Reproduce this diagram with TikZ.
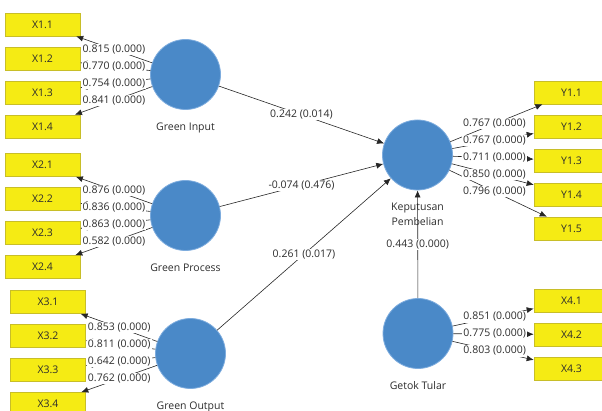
\documentclass[tikz,border=0pt]{standalone}
\usepackage{fontspec}
\setmainfont{Open Sans}
\usetikzlibrary{arrows.meta,positioning}

\definecolor{lvblue}{RGB}{74,137,200}
\definecolor{lvedge}{RGB}{125,172,222}
\definecolor{mvyellow}{RGB}{245,235,20}
\definecolor{mvedge}{RGB}{200,190,40}
\definecolor{txtgray}{RGB}{45,45,45}

\tikzset{
  latent/.style={circle,fill=lvblue,draw=lvedge,line width=0.8pt,minimum size=70pt,inner sep=0pt},
  manifest/.style={rectangle,fill=mvyellow,draw=mvedge,line width=0.6pt,minimum width=75pt,minimum height=23pt,inner sep=0pt,text=txtgray,font=\fontsize{10.5}{12}\selectfont},
  coef/.style={fill=white,inner sep=1pt,text=txtgray,font=\fontsize{10.5}{12}\selectfont},
  lvname/.style={inner sep=0pt,text=txtgray,align=center,font=\fontsize{10.5}{15}\selectfont},
  link/.style={draw=black!85,line width=0.6pt,-{Latex[length=7pt,width=6pt]}}
}

\begin{document}
\begin{tikzpicture}[x=1pt,y=-1pt]
	\useasboundingbox (0,0) rectangle (602,411);
	\clip (0,0) rectangle (602,411);

	% latent variables
	\node[latent] (gi) at (185.5,74.5) {};
	\node[latent] (gp) at (185.5,215.5) {};
	\node[latent] (go) at (190.5,353.5) {};
	\node[latent] (kp) at (417.5,155) {};
	\node[latent] (gt) at (418,333.5) {};

	\node[lvname, below=12.5pt of gi] (gi-name) {Green Input};
	\node[lvname, below=12.5pt of gp] (gp-name) {Green Process};
	\node[lvname, below=12.5pt of go] (go-name) {Green Output};
	\node[lvname, below=12.5pt of kp] (kp-name) {Keputusan\\Pembelian};
	\node[lvname, below=12.5pt of gt] (gt-name) {Getok Tular};

	% indicators
	\foreach \k in {1,2,3,4}
	  {
		\pgfmathsetmacro{\ya}{24.5+34*(\k-1)}%
		\pgfmathsetmacro{\yb}{165+34*(\k-1)}%
		\pgfmathsetmacro{\yc}{302+34*(\k-1)}%
		\node[manifest] (x1\k) at (42.5,\ya) {X1.\k};
		\node[manifest] (x2\k) at (42.5,\yb) {X2.\k};
		\node[manifest] (x3\k) at (48,\yc) {X3.\k};
		\draw[link] (gi) -- (x1\k);
		\draw[link] (gp) -- (x2\k);
		\draw[link] (go) -- (x3\k);
	  }
	\foreach \k in {1,...,5}
	  {
		\pgfmathsetmacro{\ya}{92.5+34*(\k-1)}%
		\node[manifest] (y1\k) at (571.5,\ya) {Y1.\k};
		\draw[link] (kp) -- (y1\k);
	  }
	\foreach \k in {1,2,3}
	  {
		\pgfmathsetmacro{\ya}{300.5+34*(\k-1)}%
		\node[manifest] (x4\k) at (571.5,\ya) {X4.\k};
		\draw[link] (gt) -- (x4\k);
	  }

	% structural paths
	\draw[link] (gi) -- (kp);
	\draw[link] (gp) -- (kp);
	\draw[link] (go) -- (kp);
	\draw[link] (gt) -- (kp);

	% outer loadings
	\foreach \k/\v in {1/0.815,2/0.770,3/0.754,4/0.841}
		\path (gi.center) -- (x1\k.center) node[midway,coef] {\v\ (0.000)};
	\foreach \k/\v in {1/0.876,2/0.836,3/0.863,4/0.582}
		\path (gp.center) -- (x2\k.center) node[midway,coef] {\v\ (0.000)};
	\foreach \k/\v in {1/0.853,2/0.811,3/0.642,4/0.762}
		\path (go.center) -- (x3\k.center) node[midway,coef] {\v\ (0.000)};
	\foreach \k/\v in {1/0.767,2/0.767,3/0.711,4/0.850,5/0.796}
		\path (kp.center) -- (y1\k.center) node[midway,coef] {\v\ (0.000)};
	\foreach \k/\v in {1/0.851,2/0.775,3/0.803}
		\path (gt.center) -- (x4\k.center) node[midway,coef] {\v\ (0.000)};

	% path coefficients
	\path (gi.center) -- (kp.center) node[midway,coef] {0.242 (0.014)};
	\path (gp.center) -- (kp.center) node[midway,coef] {-0.074 (0.476)};
	\path (go.center) -- (kp.center) node[midway,coef] {0.261 (0.017)};
	\path (gt.center) -- (kp.center) node[midway,coef] {0.443 (0.000)};
\end{tikzpicture}
\end{document}
